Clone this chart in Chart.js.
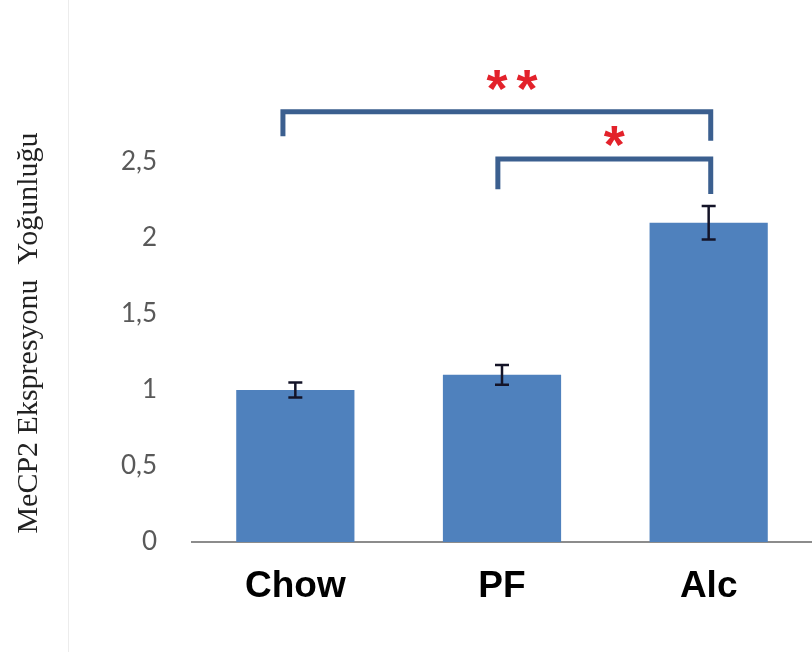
<!DOCTYPE html>
<html>
<head>
<meta charset="utf-8">
<script src="https://cdn.jsdelivr.net/npm/chart.js@4"></script>
<style>
  html, body { margin: 0; padding: 0; background: #fff; }
  #wrap { position: relative; width: 812px; height: 652px; }
</style>
</head>
<body>
<div id="wrap"><canvas id="mecp2Chart"></canvas></div>
<script>
// Donnees du graphique
const groupes = ['Chow', 'PF', 'Alc'];
const moyennes = [1.0, 1.1, 2.1];
const erreurs = [0.05, 0.065, 0.11];
const ticksY = [0, 0.5, 1, 1.5, 2, 2.5];

// Crochets de significativite (positions en index de categorie / valeurs)
const crochetGauche = [-0.06, 0.98];
const crochetDroite = [2.01, 2.01];
const crochetHaut = [2.83, 2.52];
const crochetBasGauche = [2.67, 2.32];
const crochetBasDroite = [2.64, 2.29];
const etoiles = ['**', '*'];
const etoileX = [1.07, 1.565];
const etoileY = [2.96, 2.59];

// Barres d'erreur
const errorBars = {
    id: 'errorBars',
    afterDatasetsDraw(chart) {
        const ctx = chart.ctx;
        const y = chart.scales.y;
        const meta = chart.getDatasetMeta(0);
        ctx.save();
        ctx.strokeStyle = '#141428';
        ctx.lineWidth = 2.5;
        meta.data.forEach((bar, i) => {
            const top = y.getPixelForValue(moyennes[i] + erreurs[i]);
            const bot = y.getPixelForValue(moyennes[i] - erreurs[i]);
            ctx.beginPath();
            ctx.moveTo(bar.x, top);
            ctx.lineTo(bar.x, bot);
            ctx.moveTo(bar.x - 7, top);
            ctx.lineTo(bar.x + 7, top);
            ctx.moveTo(bar.x - 7, bot);
            ctx.lineTo(bar.x + 7, bot);
            ctx.stroke();
        });
        ctx.restore();
    }
};

// Crochets + etoiles
const crochets = {
    id: 'crochets',
    afterDraw(chart) {
        const ctx = chart.ctx;
        const x = chart.scales.x;
        const y = chart.scales.y;
        ctx.save();
        ctx.strokeStyle = '#3b5f8f';
        ctx.lineWidth = 5;
        ctx.lineJoin = 'miter';
        crochetHaut.forEach((h, i) => {
            ctx.beginPath();
            ctx.moveTo(x.getPixelForValue(crochetGauche[i]), y.getPixelForValue(crochetBasGauche[i]));
            ctx.lineTo(x.getPixelForValue(crochetGauche[i]), y.getPixelForValue(h));
            ctx.lineTo(x.getPixelForValue(crochetDroite[i]), y.getPixelForValue(h));
            ctx.lineTo(x.getPixelForValue(crochetDroite[i]), y.getPixelForValue(crochetBasDroite[i]));
            ctx.stroke();
        });
        ctx.fillStyle = '#e3222b';
        ctx.font = 'bold 54px "Liberation Sans"';
        ctx.letterSpacing = '9px';
        ctx.textAlign = 'center';
        ctx.textBaseline = 'middle';
        etoiles.forEach((t, i) => {
            ctx.fillText(t, x.getPixelForValue(etoileX[i]), y.getPixelForValue(etoileY[i]));
        });
        ctx.letterSpacing = '0px';
        // cadre gauche du graphique
        ctx.strokeStyle = '#ececec';
        ctx.lineWidth = 1;
        ctx.beginPath();
        ctx.moveTo(68.5, 0);
        ctx.lineTo(68.5, 652);
        ctx.stroke();
        ctx.restore();
    }
};

const ctx = document.getElementById('mecp2Chart').getContext('2d');
new Chart(ctx, {
    type: 'bar',
    data: {
        labels: groupes,
        datasets: [{
            data: moyennes,
            backgroundColor: '#4f81bd',
            borderWidth: 0,
            barPercentage: 0.572,
            categoryPercentage: 1
        }]
    },
    options: {
        responsive: true,
        maintainAspectRatio: false,
        animation: false,
        layout: {
            padding: { top: 124, left: 0, right: -4, bottom: 0 }
        },
        plugins: {
            legend: { display: false },
            tooltip: { enabled: false }
        },
        scales: {
            x: {
                grid: { display: false, drawTicks: false },
                border: { color: '#8c8c8c', width: 2 },
                ticks: {
                    color: '#000',
                    padding: 23,
                    font: { family: '"Liberation Sans"', size: 37, weight: 'bold' }
                },
                afterFit: function(scale) { scale.height = 110; }
            },
            y: {
                min: 0,
                max: 2.75,
                grid: { display: false, drawTicks: false },
                border: { display: false },
                afterBuildTicks: function(scale) {
                    scale.ticks = ticksY.map(v => ({ value: v }));
                },
                ticks: {
                    color: '#595959',
                    padding: 35,
                    font: { family: 'Lato', size: 26 },
                    callback: function(value) {
                        return value.toString().replace('.', ',');
                    }
                },
                title: {
                    display: true,
                    text: 'MeCP2 Ekspresyonu  Yoğunluğu',
                    color: '#222',
                    padding: { top: 11, bottom: 0 },
                    font: { family: '"Liberation Serif"', size: 30 }
                },
                afterFit: function(scale) { scale.width = 192; }
            }
        }
    },
    plugins: [errorBars, crochets]
});
</script>
</body>
</html>
